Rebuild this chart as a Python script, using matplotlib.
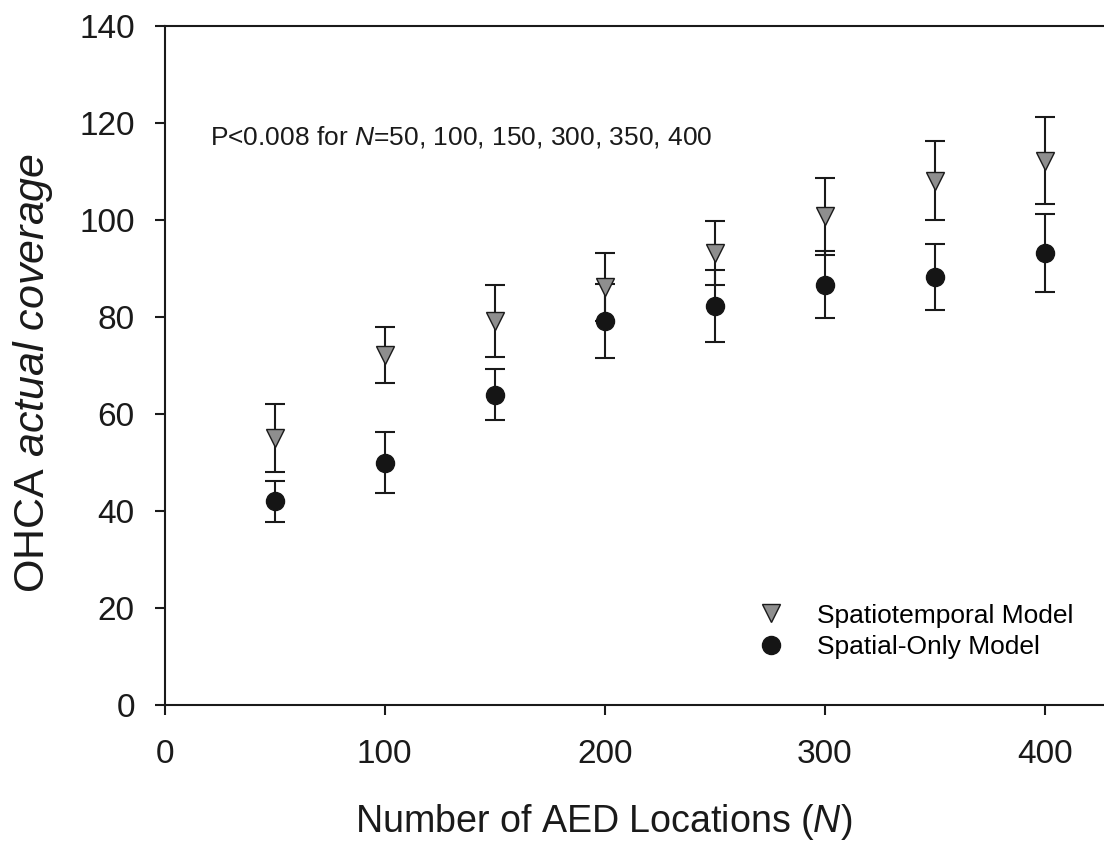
import numpy as np
import matplotlib.pyplot as plt

plt.rcParams['font.family'] = ['Liberation Sans', 'DejaVu Sans']
plt.rcParams['mathtext.fontset'] = 'custom'
plt.rcParams['mathtext.rm'] = 'Liberation Sans'
plt.rcParams['mathtext.it'] = 'Liberation Sans:italic'

n_locations = [50, 100, 150, 200, 250, 300, 350, 400]

st_mean = [55.0, 72.1, 79.2, 86.2, 93.2, 100.7, 108.1, 112.2]
st_err = [7.0, 5.8, 7.4, 7.0, 6.6, 8.0, 8.1, 9.0]

so_mean = [42.0, 50.0, 64.0, 79.1, 82.2, 86.6, 88.2, 93.2]
so_err = [4.2, 6.3, 5.2, 7.6, 7.4, 6.9, 6.8, 8.0]

fig = plt.figure(figsize=(11.04, 8.51), dpi=100)
ax = fig.add_axes([0.1492, 0.1712, 0.8508, 0.7986])

ax.errorbar(n_locations, st_mean, yerr=st_err, fmt='none', ecolor='#1a1a1a',
            elinewidth=1.5, capsize=7.5, capthick=1.5, zorder=2)
ax.errorbar(n_locations, so_mean, yerr=so_err, fmt='none', ecolor='#1a1a1a',
            elinewidth=1.5, capsize=7.5, capthick=1.5, zorder=2)
ax.plot(n_locations, st_mean, 'v', color='#8e8e8e', markeredgecolor='#1a1a1a',
        markeredgewidth=1.0, markersize=12.5, linestyle='none', zorder=3,
        label='Spatiotemporal Model')
ax.plot(n_locations, so_mean, 'o', color='#151515', markeredgecolor='#151515',
        markersize=13, linestyle='none', zorder=3, label='Spatial-Only Model')

ax.set_xlim(0, 427)
ax.set_ylim(0, 140)
ax.set_xticks([0, 100, 200, 300, 400])
ax.set_yticks(np.arange(0, 141, 20))

for side in ['left', 'bottom', 'top']:
    ax.spines[side].set_linewidth(1.5)
    ax.spines[side].set_color('#1a1a1a')
ax.spines['right'].set_visible(False)

ax.tick_params(axis='both', direction='out', length=7.5, width=1.5,
               color='#1a1a1a', labelsize=24, labelcolor='#1a1a1a')
ax.tick_params(axis='y', pad=14)
ax.tick_params(axis='x', pad=17)

ax.set_xlabel('Number of AED Locations ($\\mathit{N}$)', fontsize=27.1,
              color='#1a1a1a')
ax.xaxis.set_label_coords(0.467, -0.143)
ax.set_ylabel('OHCA $\\mathit{actual\\ coverage}$', fontsize=31,
              color='#1a1a1a')
ax.yaxis.set_label_coords(-0.117, 0.489)

ax.text(20.5, 117, 'P<0.008 for $\\mathit{N}$=50, 100, 150, 300, 350, 400',
        fontsize=19, color='#1a1a1a', va='center', ha='left')

ax.legend(loc='lower left', bbox_to_anchor=(0.617, 0.0526), frameon=False,
          fontsize=19, handletextpad=1.15, labelspacing=0.28,
          borderaxespad=0, handlelength=1.2, numpoints=1)

fig.savefig('out.png', dpi=100)
